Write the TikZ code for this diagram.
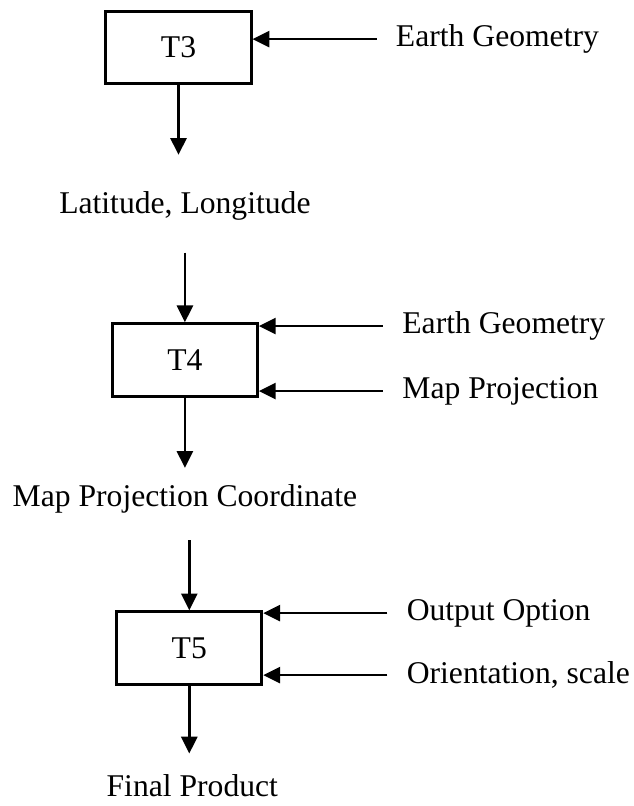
\documentclass[tikz,border=0pt]{standalone}
\usepackage{fontspec}
\setmainfont{Liberation Serif}
\usepackage{tikz}
\usetikzlibrary{arrows.meta, positioning}

\begin{document}
\begin{tikzpicture}[
    node distance=1cm,
    font=\fontsize{22.5}{26}\selectfont,
    stagebox/.style={rectangle, draw, line width=2pt, minimum width=3.63cm, minimum height=1.82cm, align=center},
    flowtext/.style={inner sep=0pt, align=center},
    inlabel/.style={inner xsep=0.48cm, inner ysep=2pt, anchor=west},
    arrow/.style={-{Triangle[length=0.42cm, width=0.4cm]}, line width=1.9pt}
]
\useasboundingbox (0,0) rectangle (15.85,-20.15);

% T3 stage
\node[stagebox] (t3) at (4.4625,-1.1875) {T3};
\node[inlabel, right=3.1cm of t3.east, yshift=0.21cm] (eg3) {Earth Geometry};

% Latitude, Longitude
\node[flowtext, on grid, below=3.96cm of t3, xshift=0.16cm] (lat) {Latitude, Longitude};

% T4 stage
\node[stagebox, on grid, below=3.855cm of lat] (t4) {T4};
\node[inlabel, right=3.1cm of t4.east, yshift=0.85cm] (eg4) {Earth Geometry};
\node[inlabel, right=3.1cm of t4.east, yshift=-0.775cm] (mp4) {Map Projection};

% Map projection coordinate
\node[flowtext, on grid, below=3.46cm of t4] (mpc) {Map Projection Coordinate};

% T5 stage
\node[stagebox, on grid, below=3.74cm of mpc, xshift=0.11cm] (t5) {T5};
\node[inlabel, right=3.1cm of t5.east, yshift=0.875cm] (oo5) {Output Option};
\node[inlabel, right=3.1cm of t5.east, yshift=-0.675cm] (os5) {Orientation, scale};

% Final product
\node[flowtext, on grid, below=3.44cm of t5, xshift=0.075cm] (final) {Final Product};

% Flow arrows
\draw[arrow, shorten >=0.91cm] (t3.south) -- (t3.south |- lat.north);
\draw[arrow, shorten <=0.8cm] (lat.south -| t4.north) -- (t4.north);
\draw[arrow, shorten >=0.4cm] (t4.south) -- (t4.south |- mpc.north);
\draw[arrow, shorten <=0.68cm] (mpc.south -| t5.north) -- (t5.north);
\draw[arrow, shorten >=0.52cm] (t5.south) -- (t5.south |- final.north);

% Input arrows
\draw[arrow] (eg3.west) -- (eg3.west -| t3.east);
\draw[arrow] (eg4.west) -- (eg4.west -| t4.east);
\draw[arrow] (mp4.west) -- (mp4.west -| t4.east);
\draw[arrow] (oo5.west) -- (oo5.west -| t5.east);
\draw[arrow] (os5.west) -- (os5.west -| t5.east);

\end{tikzpicture}
\end{document}
